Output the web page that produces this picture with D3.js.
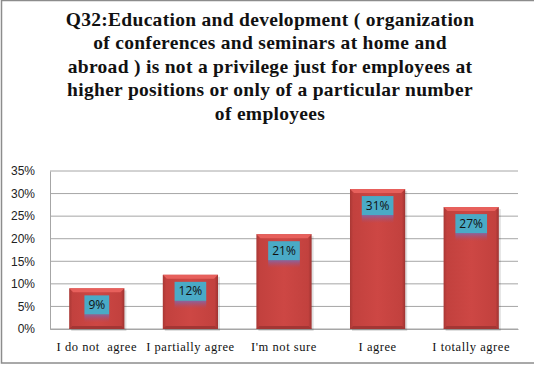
<!DOCTYPE html>
<html>
<head>
<meta charset="utf-8">
<script src="https://cdn.jsdelivr.net/npm/d3@7"></script>
<style>
  html, body { margin: 0; padding: 0; background: #fff; }
  svg { display: block; }
</style>
</head>
<body>
<svg id="chart" width="534" height="365"></svg>
<script>
// Survey answers and their shares
const categories = ["I do not  agree", "I partially agree", "I'm not sure", "I agree", "I totally agree"];
const shares = [0.09, 0.12, 0.21, 0.31, 0.27];
const yTicks = [0, 0.05, 0.10, 0.15, 0.20, 0.25, 0.30, 0.35];
const titleLines = [
  "Q32:Education and development ( organization",
  "of conferences and seminars at home and",
  "abroad ) is not a privilege just for employees at",
  "higher positions or only of a particular number",
  "of employees"
];

const svg = d3.select("#chart");
const plot = { left: 50, right: 518, top: 171, bottom: 329 };

// Outer frame
svg.append("rect")
  .attr("x", 1.5).attr("y", 0.5)
  .attr("width", 540).attr("height", 362.5)
  .attr("fill", "#fff")
  .attr("stroke", "#8c8c8c").attr("stroke-width", 1.5);

// Gradients
const defs = svg.append("defs");
const barGrad = defs.append("linearGradient").attr("id", "barBody")
  .attr("x1", 0).attr("x2", 1).attr("y1", 0).attr("y2", 0);
[[0, "#a93835"], [0.06, "#c2413e"], [0.5, "#cd4744"], [0.94, "#c2413e"], [1, "#9e3331"]]
  .forEach(([o, c]) => barGrad.append("stop").attr("offset", o).attr("stop-color", c));
const shadeGrad = defs.append("linearGradient").attr("id", "labelShade")
  .attr("x1", 0).attr("x2", 0).attr("y1", 0).attr("y2", 1);
shadeGrad.append("stop").attr("offset", 0).attr("stop-color", "#8466a6").attr("stop-opacity", 0.95);
shadeGrad.append("stop").attr("offset", 1).attr("stop-color", "#b04a6a").attr("stop-opacity", 0);

// Title
svg.append("g").selectAll("text")
  .data(titleLines)
  .join("text")
  .attr("x", 270)
  .attr("y", (d, i) => 25.5 + i * 23.5)
  .attr("text-anchor", "middle")
  .attr("font-family", "'Liberation Serif', 'Times New Roman', serif")
  .attr("font-weight", "bold")
  .attr("font-size", 19.5)
  .attr("letter-spacing", 0.3)
  .attr("fill", "#111")
  .text(d => d);

// Scales
const x = d3.scaleBand()
  .domain(categories)
  .range([plot.left, plot.right])
  .paddingInner(0.41)
  .paddingOuter(0.205);
const y = d3.scaleLinear()
  .domain([0, 0.35])
  .range([plot.bottom, plot.top]);

// Gridlines
svg.append("g").selectAll("line")
  .data(yTicks)
  .join("line")
  .attr("x1", plot.left).attr("x2", plot.right)
  .attr("y1", d => y(d)).attr("y2", d => y(d))
  .attr("stroke", "#a6a6a6").attr("stroke-width", 1);

// Y axis
const yAxis = svg.append("g")
  .attr("transform", `translate(${plot.left},0)`)
  .call(d3.axisLeft(y).tickValues(yTicks).tickFormat(d3.format(".0%")).tickSize(0).tickPadding(15));
yAxis.select(".domain").attr("stroke", "#a6a6a6");
yAxis.selectAll("text")
  .attr("font-family", "'Liberation Sans', Arial, sans-serif")
  .attr("font-size", 12)
  .attr("fill", "#222");

// X axis labels
const xAxis = svg.append("g")
  .attr("transform", `translate(0,${plot.bottom})`)
  .call(d3.axisBottom(x).tickSize(0).tickPadding(13));
xAxis.select(".domain").attr("stroke", "#a6a6a6");
xAxis.selectAll("text")
  .attr("font-family", "'Liberation Serif', 'Times New Roman', serif")
  .attr("font-size", 12.5)
  .attr("letter-spacing", 0.55)
  .attr("fill", "#111")
  .style("white-space", "pre");

// Bars
const bars = svg.append("g").selectAll("g")
  .data(categories.map((c, i) => ({ c, v: shares[i] })))
  .join("g");

const bevel = 4;
bars.append("rect")
  .attr("x", d => x(d.c) + 2).attr("y", d => y(d.v) + 2)
  .attr("width", x.bandwidth()).attr("height", d => y(0) - y(d.v))
  .attr("fill", "#000").attr("opacity", 0.12);
bars.append("rect")
  .attr("x", d => x(d.c)).attr("y", d => y(d.v))
  .attr("width", x.bandwidth()).attr("height", d => y(0) - y(d.v))
  .attr("fill", "url(#barBody)");
// top bevel
bars.append("path")
  .attr("d", d => {
    const x0 = x(d.c), x1 = x0 + x.bandwidth(), t = y(d.v);
    return `M${x0},${t}L${x1},${t}L${x1 - bevel},${t + bevel}L${x0 + bevel},${t + bevel}Z`;
  })
  .attr("fill", "#e7605c");
// bottom bevel
bars.append("path")
  .attr("d", d => {
    const x0 = x(d.c), x1 = x0 + x.bandwidth(), b = y(0);
    return `M${x0},${b}L${x1},${b}L${x1 - 3},${b - 3}L${x0 + 3},${b - 3}Z`;
  })
  .attr("fill", "#a33634");

// Value labels
const fmt = d3.format(".0%");
bars.each(function (d) {
  const g = d3.select(this);
  const cx = x(d.c) + x.bandwidth() / 2;
  const top = y(d.v) + 7;
  const txt = g.append("text")
    .attr("x", cx).attr("y", top + 13.5)
    .attr("text-anchor", "middle")
    .attr("font-family", "'Open Sans', 'Liberation Sans', sans-serif")
    .attr("font-size", 12)
    .attr("fill", "#111")
    .text(fmt(d.v));
  const w = txt.node().getComputedTextLength() + 8;
  g.insert("rect", "text")
    .attr("x", cx - w / 2).attr("y", top + 19)
    .attr("width", w).attr("height", 8)
    .attr("fill", "url(#labelShade)");
  g.insert("rect", "text")
    .attr("x", cx - w / 2).attr("y", top)
    .attr("width", w).attr("height", 19)
    .attr("fill", "#4aaac6");
});
</script>
</body>
</html>
